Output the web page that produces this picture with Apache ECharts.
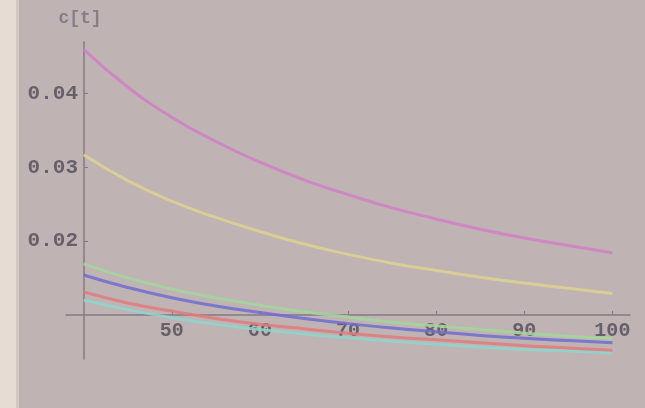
<!DOCTYPE html>
<html>
<head>
<meta charset="utf-8">
<script src="https://cdn.jsdelivr.net/npm/echarts@6/dist/echarts.min.js"></script>
<style>
html,body{margin:0;padding:0;background:#bfb3b4;}
#chart{width:645px;height:408px;}
</style>
</head>
<body>
<div id="chart"></div>
<script>
// time values (x)
var tValues = [40, 45, 50, 55, 60, 65, 70, 75, 80, 85, 90, 95, 100];
// c(t) curves
var magenta = [0.0460, 0.0409, 0.0368, 0.0335, 0.0307, 0.0283, 0.0263, 0.0245, 0.0230, 0.0216, 0.0204, 0.0194, 0.0184];
var yellow  = [0.0317, 0.0282, 0.0254, 0.0232, 0.0213, 0.0196, 0.0182, 0.0170, 0.0160, 0.0151, 0.0143, 0.0136, 0.0129];
var green   = [0.0169, 0.0150, 0.0135, 0.0123, 0.0113, 0.0104, 0.0097, 0.0090, 0.0085, 0.0080, 0.0075, 0.0071, 0.0068];
var blue    = [0.0154, 0.0137, 0.0123, 0.0112, 0.0103, 0.0095, 0.0088, 0.0082, 0.0077, 0.0072, 0.0068, 0.0065, 0.0062];
var red     = [0.0131, 0.0116, 0.0105, 0.0095, 0.0087, 0.0081, 0.0075, 0.0070, 0.0066, 0.0062, 0.0058, 0.0055, 0.0052];
var cyan    = [0.0120, 0.0107, 0.0096, 0.0087, 0.0080, 0.0074, 0.0069, 0.0064, 0.0060, 0.0056, 0.0053, 0.0051, 0.0048];
var xTicks = [50, 60, 70, 80, 90, 100];
var yTicks = [0.02, 0.03, 0.04];

var curves = [
    {name: 'magenta', data: magenta, color: '#d17fc6'},
    {name: 'yellow', data: yellow, color: '#dcd290'},
    {name: 'green', data: green, color: '#a2d69b'},
    {name: 'blue', data: blue, color: '#6e6ccf'},
    {name: 'red', data: red, color: '#e07a7c'},
    {name: 'cyan', data: cyan, color: '#8fd5cb'}
];

var seriesList = [];
for (let i = 0; i < curves.length; i++) {
    let pts = [];
    for (let j = 0; j < tValues.length; j++) {
        pts.push([tValues[j], curves[i].data[j]]);
    }
    seriesList.push({
        type: 'line',
        name: curves[i].name,
        data: pts,
        smooth: true,
        symbol: 'none',
        lineStyle: {color: curves[i].color, width: 3, opacity: 0.85},
        z: 10 - i
    });
}

var axisColor = '#847b82';
var labelFont = {fontFamily: 'Liberation Mono', fontSize: 21, color: '#675f69', fontWeight: 'bold'};

var chart = echarts.init(document.getElementById('chart'));
var option = {
    backgroundColor: '#bfb3b4',
    animation: false,
    graphic: [
        {type: 'rect', left: 0, top: 0, shape: {width: 16, height: 408},
            style: {fill: '#e6dcd4'}, z: -10},
        {type: 'rect', left: 16, top: 0, shape: {width: 3, height: 408},
            style: {fill: '#d3c8c4'}, z: -10}
    ],
    grid: {left: 66, right: 15, top: 42, bottom: 49},
    xAxis: {
        type: 'value',
        min: 38,
        max: 102,
        offset: -44,
        splitLine: {show: false},
        axisLine: {lineStyle: {color: axisColor, width: 1.5}},
        axisTick: {show: true, inside: true, length: 4, customValues: xTicks,
            lineStyle: {color: axisColor}},
        axisLabel: Object.assign({customValues: xTicks, margin: 6}, labelFont, {fontSize: 20})
    },
    yAxis: {
        type: 'value',
        min: 0.004,
        max: 0.047,
        offset: -18,
        name: 'c[t]',
        nameLocation: 'end',
        nameGap: 15,
        nameTextStyle: {fontFamily: 'Liberation Mono', fontSize: 18, color: '#857d88',
            fontWeight: 'bold', align: 'center', padding: [0, 0, 0, -8]},
        splitLine: {show: false},
        axisLine: {show: true, lineStyle: {color: axisColor, width: 1.5}},
        axisTick: {show: true, inside: true, length: 4, customValues: yTicks,
            lineStyle: {color: axisColor}},
        axisLabel: Object.assign({customValues: yTicks, margin: 6,
            formatter: function (v) { return v.toFixed(2); }}, labelFont)
    },
    series: seriesList
};
chart.setOption(option);
</script>
</body>
</html>
